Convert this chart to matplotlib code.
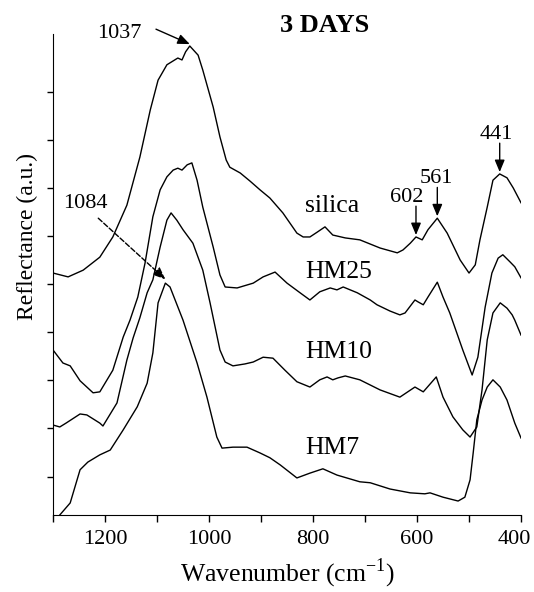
import numpy as np
import matplotlib
matplotlib.use("Agg")
import matplotlib.pyplot as plt
from matplotlib.transforms import ScaledTranslation

plt.rcParams['font.family'] = ['Liberation Serif', 'DejaVu Serif']
plt.rcParams['mathtext.fontset'] = 'custom'
plt.rcParams['mathtext.rm'] = 'Liberation Serif'

# reflectance spectra after 3 days, offset vertically (a.u.)
silica_wn = [1300, 1271, 1242, 1210, 1185, 1158, 1133, 1113, 1098, 1081, 1069, 1060, 1052, 1045,
             1037, 1021, 1012, 992, 979, 967, 960, 940, 921, 902, 883, 858, 831, 819, 806, 792,
             777, 762, 738, 710, 671, 638, 627, 613, 602, 590, 579, 561, 542, 517, 500, 488,
             479, 465, 454, 441, 427, 415, 400]
silica_r = [0.503, 0.495, 0.509, 0.536, 0.578, 0.644, 0.744, 0.842, 0.904, 0.936, 0.944, 0.950, 0.946, 0.963,
            0.975, 0.956, 0.925, 0.848, 0.786, 0.738, 0.723, 0.711, 0.694, 0.676, 0.659, 0.628, 0.586, 0.578, 0.578, 0.588,
            0.599, 0.582, 0.576, 0.572, 0.555, 0.545, 0.551, 0.565, 0.578, 0.572, 0.593, 0.617, 0.586, 0.530, 0.503, 0.520,
            0.572, 0.640, 0.696, 0.709, 0.701, 0.680, 0.649]

hm25_wn = [1300, 1281, 1267, 1248, 1223, 1210, 1185, 1165, 1152, 1137, 1123, 1108, 1094, 1081, 1069,
           1060, 1052, 1042, 1033, 1023, 1012, 992, 979, 969, 946, 915, 896, 873, 850, 825, 806,
           787, 767, 754, 742, 715, 690, 677, 652, 633, 623, 604, 598, 588, 579, 561, 550, 537,
           512, 494, 483, 469, 456, 444, 435, 421, 412, 400]
hm25_r = [0.343, 0.316, 0.310, 0.279, 0.254, 0.256, 0.301, 0.370, 0.405, 0.453, 0.524, 0.620, 0.676, 0.703, 0.717,
          0.721, 0.717, 0.728, 0.732, 0.696, 0.640, 0.557, 0.499, 0.474, 0.472, 0.482, 0.495, 0.505, 0.482, 0.462, 0.447,
          0.464, 0.472, 0.468, 0.474, 0.462, 0.447, 0.437, 0.424, 0.416, 0.420, 0.447, 0.443, 0.437, 0.453, 0.484, 0.453, 0.420,
          0.343, 0.291, 0.328, 0.432, 0.503, 0.534, 0.541, 0.526, 0.516, 0.493]

hm10_wn = [1300, 1287, 1275, 1248, 1235, 1210, 1204, 1177, 1158, 1146, 1133, 1119, 1108, 1094, 1081,
           1073, 1062, 1050, 1031, 1012, 998, 979, 969, 954, 931, 915, 896, 877, 854, 831, 806,
           787, 773, 762, 752, 738, 710, 671, 633, 604, 588, 563, 550, 531, 512, 498, 485, 475,
           465, 454, 440, 427, 417, 412, 400]
hm10_r = [0.187, 0.183, 0.191, 0.210, 0.208, 0.191, 0.185, 0.233, 0.322, 0.368, 0.410, 0.462, 0.489, 0.557, 0.613,
          0.628, 0.613, 0.593, 0.565, 0.509, 0.441, 0.343, 0.318, 0.310, 0.314, 0.318, 0.328, 0.326, 0.301, 0.277, 0.266,
          0.281, 0.287, 0.281, 0.285, 0.289, 0.281, 0.260, 0.245, 0.266, 0.256, 0.287, 0.245, 0.204, 0.177, 0.162, 0.183, 0.260,
          0.364, 0.420, 0.441, 0.430, 0.416, 0.405, 0.374]

hm7_wn = [1300, 1287, 1267, 1248, 1233, 1210, 1190, 1165, 1138, 1119, 1108, 1098, 1084, 1075, 1050,
          1023, 1004, 985, 975, 954, 927, 902, 883, 863, 831, 806, 781, 754, 710, 690, 652,
          613, 585, 575, 550, 521, 508, 498, 492, 485, 475, 465, 454, 440, 427, 412, 400]
hm7_r = [-0.021, 0.000, 0.025, 0.094, 0.110, 0.125, 0.135, 0.177, 0.225, 0.274, 0.337, 0.441, 0.482, 0.474, 0.405,
         0.316, 0.245, 0.162, 0.139, 0.141, 0.141, 0.129, 0.119, 0.104, 0.077, 0.087, 0.096, 0.083, 0.069, 0.067, 0.054,
         0.046, 0.044, 0.046, 0.037, 0.029, 0.037, 0.073, 0.129, 0.198, 0.239, 0.266, 0.281, 0.266, 0.239, 0.191, 0.160]

series_names = ['silica', 'HM25', 'HM10', 'HM7']
series_label_r = [0.630, 0.493, 0.326, 0.127]

# vertical arrows over the silica bands
band_wn = [602, 561, 441]
band_label_wn = [619, 562, 448]

fig = plt.figure(figsize=(5.34, 5.92), dpi=100)
ax = fig.add_axes([0.0993, 0.1301, 0.8764, 0.8125])

for wn, r in [(silica_wn, silica_r), (hm25_wn, hm25_r), (hm10_wn, hm10_r), (hm7_wn, hm7_r)]:
    ax.plot(wn, r, color='black', lw=1.0)

ax.set_xlim(1300, 400)
ax.set_ylim(0, 1)
xt = np.arange(1300, 399, -100)
ax.set_xticks(xt)
ax.set_xticklabels(['' if v % 200 else str(v) for v in xt])
ax.set_yticks(np.arange(0.08, 0.89, 0.1))
ax.set_yticklabels([])
ax.tick_params(axis='x', direction='out', length=5, width=1, pad=6, labelsize=16)
ax.tick_params(axis='y', direction='out', length=4, width=1)
for side in ['top', 'right']:
    ax.spines[side].set_visible(False)

# keep the last tick label inside the figure
last = ax.get_xticklabels()[-1]
last.set_transform(last.get_transform() + ScaledTranslation(-7 / 100, 0, fig.dpi_scale_trans))

ax.set_xlabel('Wavenumber (cm$^{-1}$)', fontsize=18.5, labelpad=5)
ax.set_ylabel('Reflectance (a.u.)', fontsize=17)
ax.yaxis.set_label_coords(-0.032, 0.58)

def curve_at(wn, r, x):
    return np.interp(x, wn[::-1], r[::-1])

for name, yl in zip(series_names, series_label_r):
    ax.text(815, yl, name, fontsize=18.5, ha='left', va='baseline')

head = '-|>,head_length=0.6,head_width=0.25'
for b, lx in zip(band_wn, band_label_wn):
    yb = curve_at(silica_wn, silica_r, b)
    ax.annotate('', xy=(b, yb + 0.004), xytext=(b, yb + 0.064),
                arrowprops=dict(arrowstyle=head, color='black', lw=1.0,
                                mutation_scale=12, shrinkA=0, shrinkB=0))
    ax.text(lx, yb + 0.073, str(b), fontsize=16, ha='center', va='baseline')

# main Si-O-Si band of silica
y1037 = curve_at(silica_wn, silica_r, 1037)
ax.annotate('', xy=(1037, y1037 + 0.004), xytext=(1102, 1.010),
            arrowprops=dict(arrowstyle=head, color='black', lw=1.0,
                            mutation_scale=12, shrinkA=0, shrinkB=0),
            annotation_clip=False)
ax.text(1172, 0.992, '1037', fontsize=16, ha='center', va='baseline')

# shifted band of HM7
y1084 = curve_at(hm7_wn, hm7_r, 1084)
ax.annotate('', xy=(1084, y1084 + 0.008), xytext=(1213, 0.617),
            arrowprops=dict(arrowstyle=head, color='black', lw=1.0, ls='--',
                            mutation_scale=12, shrinkA=0, shrinkB=0))
ax.text(1237, 0.638, '1084', fontsize=16, ha='center', va='baseline')

ax.text(777, 1.004, '3 DAYS', fontsize=19, fontweight='bold', ha='center', va='baseline')

fig.savefig('out.png', dpi=100)
